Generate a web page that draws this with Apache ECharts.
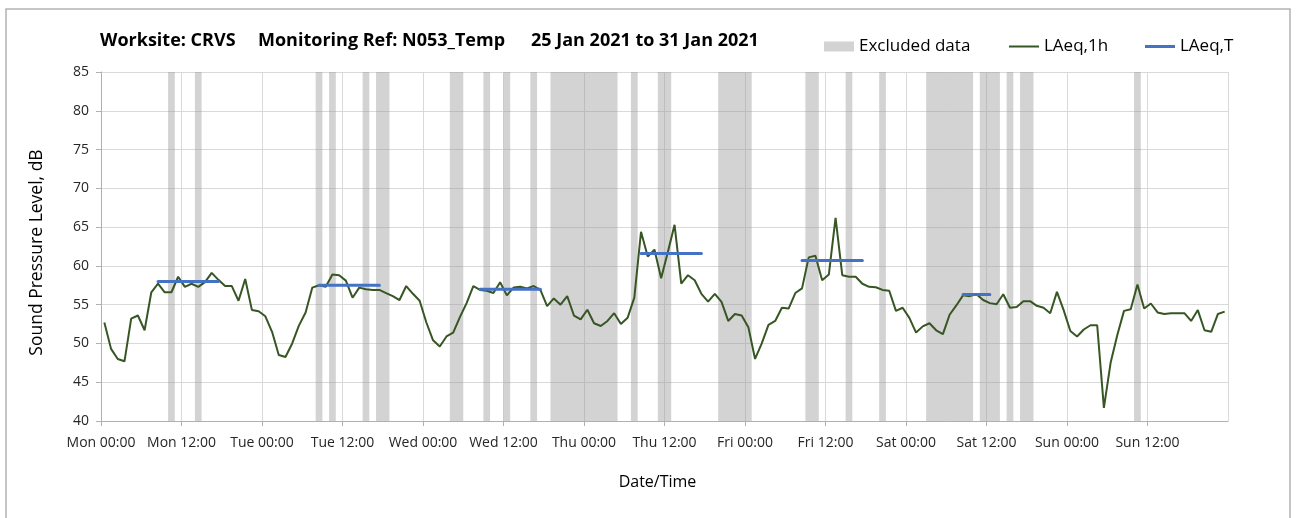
<!DOCTYPE html>
<html lang="en">
<head>
<meta charset="UTF-8">
<title>Worksite CRVS - N053_Temp</title>
<script src="https://cdn.jsdelivr.net/npm/echarts@6/dist/echarts.min.js"></script>
<style>html,body{margin:0;padding:0;background:#fff;}</style>
</head>
<body>
<div id="chart" style="width:1301px;height:518px;"></div>
<script>
// x axis is hours from Mon 00:00, each hourly value sits in the middle of its hour
var dayNames = ['Mon', 'Tue', 'Wed', 'Thu', 'Fri', 'Sat', 'Sun'];
var dayTimes = ['00:00', '12:00'];

// LAeq,1h, one value per hour, Mon 00:00 .. Sun 23:00
var laeq1h = [
    52.7, 49.3, 48.0, 47.7, 53.2, 53.6, 51.7, 56.6, 57.7, 56.6, 56.6, 58.6,
    57.3, 57.7, 57.3, 57.9, 59.1, 58.2, 57.4, 57.4, 55.5, 58.3, 54.3, 54.15,
    53.5, 51.5, 48.5, 48.25, 50.0, 52.3, 54.0, 57.2, 57.5, 57.3, 58.9, 58.8,
    58.1, 55.9, 57.2, 57.0, 56.9, 56.9, 56.5, 56.1, 55.6, 57.4, 56.4, 55.5,
    52.7, 50.4, 49.6, 50.9, 51.4, 53.4, 55.2, 57.4, 56.9, 56.8, 56.5, 57.9,
    56.2, 57.2, 57.3, 57.1, 57.4, 56.9, 54.8, 55.8, 55.0, 56.1, 53.6, 53.1,
    54.35, 52.6, 52.25, 52.9, 53.9, 52.5, 53.3, 55.9, 64.4, 61.2, 62.1, 58.4,
    61.8, 65.3, 57.7, 58.8, 58.15, 56.4, 55.4, 56.4, 55.35, 52.9, 53.8, 53.6,
    52.1, 48.0, 50.0, 52.4, 52.9, 54.6, 54.5, 56.5, 57.1, 61.1, 61.3, 58.15,
    58.9, 66.2, 58.8, 58.6, 58.6, 57.7, 57.3, 57.25, 56.9, 56.8, 54.2, 54.6,
    53.3, 51.4, 52.2, 52.6, 51.7, 51.2, 53.7, 54.9, 56.2, 56.1, 56.35, 55.6,
    55.2, 55.05, 56.35, 54.6, 54.7, 55.45, 55.45, 54.85, 54.6, 53.9, 56.65, 54.3,
    51.6, 50.9, 51.8, 52.35, 52.35, 41.7, 47.5, 51.1, 54.2, 54.4, 57.6, 54.5,
    55.15, 54.0, 53.8, 53.9, 53.9, 53.9, 52.9, 54.3, 51.7, 51.5, 53.8, 54.1
];

// excluded periods (hours from Mon 00:00)
var excludedStart = [10, 14, 32, 34, 39, 41, 52, 57, 60, 64, 67, 79, 83, 92, 105, 111, 116, 123, 131, 135, 137, 154];
var excludedEnd   = [11, 15, 33, 35, 40, 43, 54, 58, 61, 65, 77, 80, 85, 97, 107, 112, 117, 130, 134, 136, 139, 155];

// LAeq,T daytime levels
var laeqTStart = [8.5, 32.5, 56.5, 80.5, 104.5, 128.5];
var laeqTEnd   = [17.5, 41.5, 65.5, 89.5, 113.5, 132.5];
var laeqT      = [58.0, 57.5, 57.0, 61.6, 60.7, 56.3];

var FONT = 'Open Sans';
var GREEN = '#375623';
var BLUE = '#4472c4';
var BAND = 'rgba(150,150,150,0.42)';

var lineData = [];
for (var i = 0; i < laeq1h.length; i++) {
    lineData.push([i + 0.5, laeq1h[i]]);
}
var bandData = [];
for (var i = 0; i < excludedStart.length; i++) {
    bandData.push([excludedStart[i], excludedEnd[i]]);
}
var tData = [];
for (var i = 0; i < laeqT.length; i++) {
    tData.push([laeqTStart[i], laeqT[i]]);
    tData.push([laeqTEnd[i], laeqT[i]]);
    tData.push([laeqTEnd[i] + 0.1, '-']);
}

var myChart = echarts.init(document.getElementById('chart'));

var titleStyle = {fontFamily: FONT, fontSize: 18, fontWeight: 'bold', color: '#000'};
var legendText = {fontFamily: FONT, fontSize: 17, color: '#000'};

var option = {
    animation: false,
    backgroundColor: '#fff',
    title: [
        {text: 'Worksite: CRVS', left: 100, top: 32, padding: 0, textStyle: titleStyle},
        {text: 'Monitoring Ref: N053_Temp', left: 258, top: 32, padding: 0, textStyle: titleStyle},
        {text: '25 Jan 2021 to 31 Jan 2021', left: 531, top: 32, padding: 0, textStyle: titleStyle}
    ],
    // three legends so each swatch gets its own height
    legend: [
        {
            left: 824, top: 38, padding: 0,
            itemWidth: 30, itemHeight: 10,
            textStyle: legendText,
            data: [{name: 'Excluded data', icon: 'rect'}]
        },
        {
            left: 1009, top: 38, padding: 0,
            itemWidth: 30, itemHeight: 2,
            textStyle: legendText,
            data: [{name: 'LAeq,1h', icon: 'rect'}]
        },
        {
            left: 1145, top: 38, padding: 0,
            itemWidth: 30, itemHeight: 3,
            textStyle: legendText,
            data: [{name: 'LAeq,T', icon: 'rect'}]
        }
    ],
    grid: {left: 101, right: 73, top: 72, bottom: 97},
    xAxis: {
        type: 'value',
        min: 0,
        max: 168,
        interval: 12,
        name: 'Date/Time',
        nameLocation: 'middle',
        nameGap: 53,
        nameTextStyle: {fontFamily: FONT, fontSize: 16, color: '#000', padding: [0, 14, 0, 0]},
        axisLine: {lineStyle: {color: '#b0b0b0'}},
        axisTick: {show: true, length: 5, lineStyle: {color: '#b0b0b0'}},
        axisLabel: {
            fontFamily: FONT, fontSize: 14, color: '#262626', margin: 15,
            showMaxLabel: false,
            formatter: function (v) {
                var d = Math.floor(v / 24);
                return dayNames[d] + ' ' + dayTimes[(v % 24) / 12];
            }
        },
        splitLine: {show: true, lineStyle: {color: '#d9d9d9'}}
    },
    yAxis: {
        type: 'value',
        min: 40,
        max: 85,
        interval: 5,
        name: 'Sound Pressure Level, dB',
        nameLocation: 'middle',
        nameGap: 55,
        nameTextStyle: {fontFamily: FONT, fontSize: 17.5, color: '#000', padding: [0, 12, 0, 0]},
        axisLine: {show: true, lineStyle: {color: '#b0b0b0'}},
        axisTick: {show: true, length: 5, lineStyle: {color: '#b0b0b0'}},
        axisLabel: {fontFamily: FONT, fontSize: 14, color: '#262626', margin: 12},
        splitLine: {show: true, lineStyle: {color: '#d9d9d9'}}
    },
    graphic: [{
        type: 'rect',
        silent: true,
        shape: {x: 6, y: 9, width: 1284, height: 530},
        style: {fill: 'none', stroke: '#b3b3b3', lineWidth: 1.5}
    }],
    series: [
        {
            name: 'Excluded data',
            type: 'custom',
            itemStyle: {color: BAND},
            encode: {x: [0, 1]},
            data: bandData,
            renderItem: function (params, api) {
                var p0 = api.coord([api.value(0), 85]);
                var p1 = api.coord([api.value(1), 40]);
                return {
                    type: 'rect',
                    shape: {x: p0[0], y: p0[1], width: p1[0] - p0[0], height: p1[1] - p0[1]},
                    style: {fill: BAND}
                };
            }
        },
        {
            name: 'LAeq,1h',
            type: 'line',
            data: lineData,
            symbol: 'none',
            itemStyle: {color: GREEN},
            lineStyle: {color: GREEN, width: 2}
        },
        {
            name: 'LAeq,T',
            type: 'line',
            data: tData,
            symbol: 'none',
            connectNulls: false,
            itemStyle: {color: BLUE},
            lineStyle: {color: BLUE, width: 3, cap: 'round'}
        }
    ]
};

myChart.setOption(option);
</script>
</body>
</html>
